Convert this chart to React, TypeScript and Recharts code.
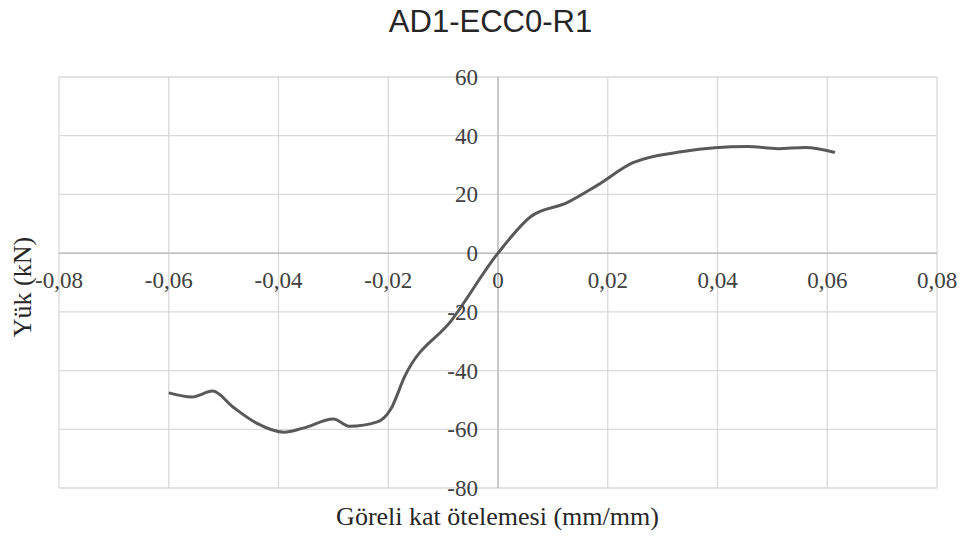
import { LineChart, Line, XAxis, YAxis, CartesianGrid, ReferenceLine } from 'recharts';

// Göreli kat ötelemesi (mm/mm) vs. Yük (kN)
const drift = [
  -0.06, -0.0558, -0.052, -0.0483, -0.044, -0.039, -0.0355, -0.03, -0.027, -0.022,
  -0.0195, -0.017, -0.0084, 0, 0.006, 0.0126, 0.018, 0.0246, 0.0337, 0.0454, 0.051,
  0.056, 0.0614,
];
const load = [
  -47.6, -49, -47, -52.4, -57.9, -61, -59.6, -56.5, -59, -57.5,
  -53, -42, -22.7, 0, 12.5, 17.2, 23, 30.8, 34.6, 36.3, 35.6,
  36, 34.3,
];
const xTicks = [-0.08, -0.06, -0.04, -0.02, 0, 0.02, 0.04, 0.06, 0.08];
const yTicks = [-80, -60, -40, -20, 0, 20, 40, 60];

const data = drift.map((x, i) => ({ x, y: load[i] }));

const W = 963;
const H = 541;
const M = { top: 77, right: 26, bottom: 52, left: 58 };
const plotW = W - M.left - 1 - M.right;
const plotH = H - M.top - M.bottom - 1;
// where the axes cross (x = 0, y = 0)
const x0 = M.left + 1 + plotW * 0.5;
const y0 = M.top + (plotH * 60) / 140;

const serif = '"Liberation Serif", "Times New Roman", serif';
const fmt = (v: number) => (v === 0 ? '0' : v.toFixed(2).replace('.', ','));

const XTick = ({ x, payload }: any) => (
  <text x={x} y={y0 + 35} textAnchor="middle" fontFamily={serif} fontSize={23} fill="#404040">
    {fmt(payload.value)}
  </text>
);

const YTick = ({ y, payload }: any) => (
  <text x={x0 - 20} y={y} dy={8} textAnchor="end" fontFamily={serif} fontSize={23} fill="#404040">
    {payload.value}
  </text>
);

export default function App() {
  return (
    <div style={{ position: 'absolute', left: 0, top: 0, width: W, height: H, background: '#fff' }}>
      <LineChart width={W} height={H} data={data} margin={M}>
        <CartesianGrid stroke="#d9d9d9" strokeWidth={1.3} />
        <XAxis
          dataKey="x"
          type="number"
          domain={[-0.08, 0.08]}
          ticks={xTicks}
          axisLine={false}
          tickLine={false}
          height={1}
          tick={(p: any) => <XTick {...p} />}
          interval={0}
        />
        <YAxis
          type="number"
          domain={[-80, 60]}
          ticks={yTicks}
          axisLine={false}
          tickLine={false}
          width={1}
          tick={(p: any) => <YTick {...p} />}
          interval={0}
        />
        <ReferenceLine y={0} stroke="#bfbfbf" strokeWidth={1.5} />
        <ReferenceLine x={0} stroke="#bfbfbf" strokeWidth={1.5} />
        <Line
          dataKey="y"
          type="monotone"
          stroke="#595959"
          strokeWidth={3}
          dot={false}
          isAnimationActive={false}
        />
      </LineChart>
      <div
        style={{
          position: 'absolute', left: 0, width: W, top: 4, textAlign: 'center',
          fontFamily: '"Liberation Sans", Arial, sans-serif', fontSize: 31, color: '#262626',
          paddingLeft: 18, boxSizing: 'border-box',
        }}
      >
        AD1-ECC0-R1
      </div>
      <div
        style={{
          position: 'absolute', left: 0, width: W, top: 502, textAlign: 'center',
          fontFamily: serif, fontSize: 26, color: '#262626', paddingLeft: 32, boxSizing: 'border-box',
        }}
      >
        Göreli kat ötelemesi (mm/mm)
      </div>
      <div
        style={{
          position: 'absolute', left: 23, top: 287, width: 0, height: 0,
        }}
      >
        <div
          style={{
            position: 'absolute', left: 0, top: 0, transform: 'translate(-50%, -50%) rotate(-90deg)',
            whiteSpace: 'nowrap', fontFamily: serif, fontSize: 26, color: '#262626',
          }}
        >
          Yük (kN)
        </div>
      </div>
    </div>
  );
}
